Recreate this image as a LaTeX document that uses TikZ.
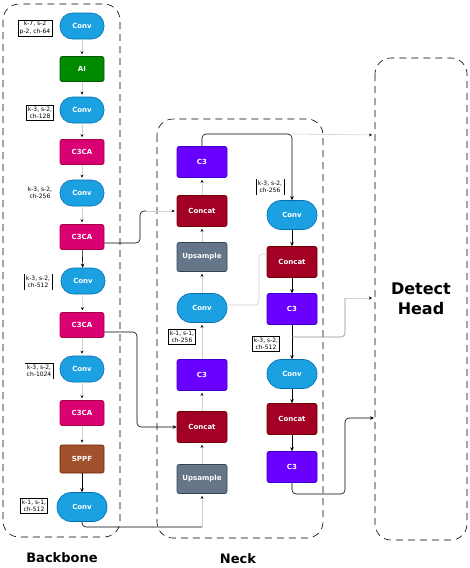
\documentclass[tikz,border=0pt]{standalone}
\usepackage{fontspec}
\setmainfont{DejaVu Sans}
\usetikzlibrary{arrows.meta}

\begin{document}
\begin{tikzpicture}[x=1pt, y=-1pt,
    bloc/.style={rectangle, rounded corners=2pt, minimum width=44pt, minimum height=25pt, inner sep=1pt,
      text=white, font=\fontsize{7}{8}\selectfont\bfseries, line width=0.6pt},
    conv/.style={bloc, rounded corners=12.5pt, minimum height=26pt, fill=cconv, draw=cconvb},
    gconv/.style={conv, minimum width=50pt, minimum height=29pt, rounded corners=14pt},
    ai/.style={bloc, fill=cai, draw=caib},
    c3ca/.style={bloc, fill=cc3ca, draw=cc3cab},
    sppf/.style={bloc, minimum height=28pt, fill=csppf, draw=csppfb},
    c3/.style={bloc, minimum width=50pt, minimum height=31pt, fill=cc3, draw=cc3b},
    concat/.style={bloc, minimum width=50pt, minimum height=31pt, fill=cconcat, draw=cconcatb},
    upsample/.style={bloc, minimum width=50pt, minimum height=29pt, fill=cups, draw=cupsb},
    param/.style={font=\fontsize{6}{7.5}\selectfont, align=center, inner sep=1.5pt},
    cadre/.style={param, draw, line width=0.5pt},
    zone/.style={draw, dash pattern=on 7pt off 5pt, rounded corners=16pt, line width=0.6pt},
    titre/.style={font=\fontsize{13}{15}\selectfont\bfseries},
    lien/.style={draw=black!18, line width=0.6pt, -{Stealth[color=black, length=3pt, width=3pt]}, shorten >=2pt},
    fleche/.style={draw=black, line width=0.6pt, rounded corners=4pt, -{Stealth[length=4pt, width=3.5pt]}},
    fort/.style={draw=black, line width=0.6pt, rounded corners=4pt},
  ]
  \definecolor{cconv}{HTML}{1BA1E2}\definecolor{cconvb}{HTML}{006EAF}
  \definecolor{cai}{HTML}{008A00}\definecolor{caib}{HTML}{005700}
  \definecolor{cc3ca}{HTML}{D80073}\definecolor{cc3cab}{HTML}{A50040}
  \definecolor{csppf}{HTML}{A0522D}\definecolor{csppfb}{HTML}{6D1F00}
  \definecolor{cc3}{HTML}{6A00FF}\definecolor{cc3b}{HTML}{3700CC}
  \definecolor{cconcat}{HTML}{A20025}\definecolor{cconcatb}{HTML}{6F0000}
  \definecolor{cups}{HTML}{647687}\definecolor{cupsb}{HTML}{314354}
  \useasboundingbox (0,0) rectangle (470,568);

  % zones
  \draw[zone] (3,4) rectangle (120,537);
  \draw[zone] (157,119) rectangle (323,538);
  \draw[zone] (375,58) rectangle (467,540);

  % backbone
  \node[conv] (conv1) at (82,26) {Conv};
  \node[ai] (ai) at (82,69) {AI};
  \node[conv] (conv2) at (82,110) {Conv};
  \node[c3ca] (c3ca1) at (82,152) {C3CA};
  \node[conv] (conv3) at (82,193) {Conv};
  \node[c3ca] (c3ca2) at (82,237) {C3CA};
  \node[conv] (conv4) at (83,281) {Conv};
  \node[c3ca] (c3ca3) at (82,325) {C3CA};
  \node[conv] (conv5) at (82,369) {Conv};
  \node[c3ca] (c3ca4) at (82,413) {C3CA};
  \node[sppf] (sppf) at (82,459) {SPPF};
  \node[gconv] (conv6) at (82,507) {Conv};

  \node[cadre] (p1) at (35,28) {k-7, s-2\\p-2, ch-64};
  \node[cadre] (p2) at (40,113) {k-3, s-2,\\ch-128};
  \node[param] (p3) at (40,193) {k-3, s-2,\\ch-256};
  \node[param] (p4) at (38,282) {k-3, s-2,\\ch-512};
  \node[param] (p5) at (39,371) {k-3, s-2,\\ch-1024};
  \node[cadre] (p6) at (34,506) {k-1, s-1,\\ch-512};
  \draw[line width=0.5pt] (p4.north west) -- (p4.south west) (p4.north east) -- (p4.south east);
  \draw[line width=0.5pt] (p5.north west) -- (p5.north east) -- (p5.south east);

  % neck
  \node[c3] (c3a) at (202,162) {C3};
  \node[concat] (cat1) at (202,211) {Concat};
  \node[upsample] (up1) at (202,257) {Upsample};
  \node[gconv] (convk) at (202,308) {Conv};
  \node[c3] (c3b) at (202,375) {C3};
  \node[concat] (cat2) at (202,427) {Concat};
  \node[upsample] (up2) at (202,479) {Upsample};

  \node[gconv] (convr1) at (292,215) {Conv};
  \node[concat] (catr1) at (292,262) {Concat};
  \node[c3] (c3r1) at (292,309) {C3};
  \node[gconv] (convr2) at (292,374) {Conv};
  \node[concat] (catr2) at (292,419) {Concat};
  \node[c3] (c3r2) at (292,467) {C3};

  \node[param] (n1) at (270,187) {k-3, s-2,\\ch-256};
  \node[cadre] (n2) at (182,337) {k-1, s-1,\\ch-256};
  \node[cadre] (n3) at (266,344) {k-3, s-2,\\ch-512};
  \draw[line width=0.5pt] (n1.north west) -- (n1.south west) (n1.north east) -- (n1.south east);

  % titres
  \node[titre] (tbb) at (62,558) {Backbone};
  \node[titre] (tneck) at (238,559) {Neck};
  \node[font=\fontsize{16}{20}\selectfont\bfseries, align=center] (tdh) at (421,299) {Detect\\Head};

  % liens
  \foreach \a/\b in {conv1/ai, ai/conv2, conv2/c3ca1, c3ca1/conv3, conv3/c3ca2, conv4/c3ca3, c3ca3/conv5, conv5/c3ca4, c3ca4/sppf}
    \draw[lien] (\a) -- (\b);
  \draw[fleche] (c3ca2) -- (conv4);
  \draw[fleche] (sppf) -- (conv6);
  \foreach \a/\b in {up2/cat2, cat2/c3b, c3b/convk, convk/up1, up1/cat1, cat1/c3a}
    \draw[lien] (\a) -- (\b);
  \foreach \a/\b in {convr1/catr1, catr1/c3r1, c3r1/convr2, convr2/catr2, catr2/c3r2}
    \draw[fleche] (\a) -- (\b);

  \coordinate (s1) at (146,211);
  \draw[fort] ([yshift=-6pt]c3ca2.east) -| (140,211) -- (s1);
  \draw[lien] (s1) -- (cat1.west);
  \draw[fleche] ([yshift=-7pt]c3ca3.east) -| (137,427) -- (cat2.west);
  \coordinate (s3) at (202,527);
  \draw[fort] (conv6.south) |- (s3);
  \draw[lien] (s3) -- (up2.south);

  \coordinate (s4) at (292,134);
  \coordinate (dh1) at (374,135);
  \coordinate (dh2) at (374,298);
  \coordinate (dh3) at (374,418);
  \draw[fleche] (c3a.north) |- (s4) -- (convr1.north);
  \draw[lien] (s4) -- (dh1);
  \draw[fort, draw=black!20] ([yshift=3pt]convk.east) -| (259,254) -- ([yshift=8pt]catr1.west);
  \coordinate (s6) at (292,337);
  \coordinate (s6b) at (345,298);
  \draw[fort, draw=black!45] (s6) -| (s6b);
  \draw[lien] (s6b) -- (dh2);
  \draw[fleche] (c3r2.south) |- (345,494) |- (dh3);
\end{tikzpicture}
\end{document}
